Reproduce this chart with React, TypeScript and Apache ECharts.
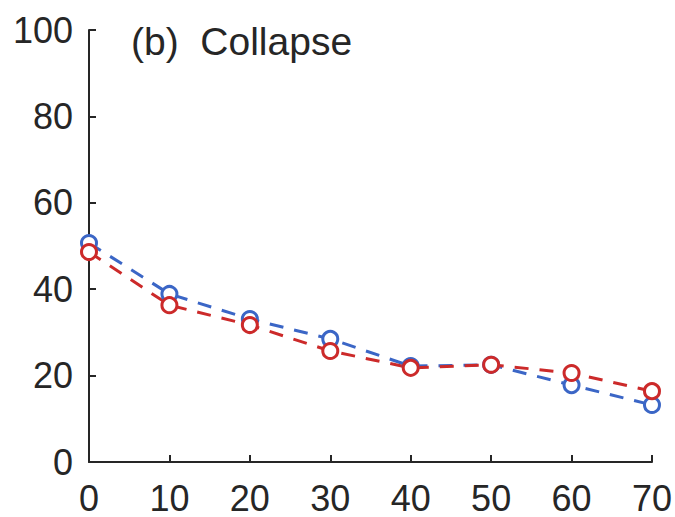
import React, { useEffect, useRef } from "react";
import * as echarts from "echarts";

const xValues = [0, 10, 20, 30, 40, 50, 60, 70];
const blueValues = [50.7, 38.9, 33.1, 28.5, 22.2, 22.5, 17.8, 13.2];
const redValues = [48.6, 36.3, 31.7, 25.7, 21.8, 22.5, 20.6, 16.4];
const titleText = "(b)  Collapse";

export default function App() {
  const ref = useRef<HTMLDivElement>(null);
  useEffect(() => {
    if (!ref.current) return;
    const chart = echarts.init(ref.current, undefined, { renderer: "svg" });
    const font = "Liberation Sans, Arial, sans-serif";
    const axisColor = "#262626";
    const mk = (vals: number[], color: string, name: string) => ({
      type: "line",
      name,
      data: xValues.map((x, i) => [x, vals[i]]),
      symbol: "circle",
      symbolSize: 15,
      lineStyle: { color, width: 3, type: [14, 11] },
      itemStyle: { color: "#ffffff", borderColor: color, borderWidth: 3 },
    });
    chart.setOption({
      animation: false,
      backgroundColor: "#ffffff",
      grid: { left: 89, right: 21, top: 30, bottom: 55, containLabel: false },
      title: {
        text: titleText,
        left: 126,
        top: 17,
        textStyle: { fontFamily: font, fontSize: 39, fontWeight: "normal", color: "#262626" },
      },
      xAxis: {
        type: "value",
        min: 0,
        max: 70,
        interval: 10,
        axisLine: { show: true, lineStyle: { color: axisColor, width: 2 } },
        axisTick: { show: true, inside: true, length: 7, lineStyle: { color: axisColor, width: 2 } },
        splitLine: { show: false },
        axisLabel: { fontFamily: font, fontSize: 36, color: "#262626", margin: 18 },
      },
      yAxis: {
        type: "value",
        min: 0,
        max: 100,
        interval: 20,
        axisLine: { show: true, lineStyle: { color: axisColor, width: 2 } },
        axisTick: { show: true, inside: true, length: 7, lineStyle: { color: axisColor, width: 2 } },
        splitLine: { show: false },
        axisLabel: { fontFamily: font, fontSize: 36, color: "#262626", margin: 16 },
      },
      series: [mk(blueValues, "#3b66c6", "blue"), mk(redValues, "#cc2a2a", "red")],
    });
    return () => chart.dispose();
  }, []);
  return (
    <div
      ref={ref}
      style={{ position: "fixed", left: 0, top: 0, width: 675, height: 517, background: "#fff" }}
    />
  );
}
